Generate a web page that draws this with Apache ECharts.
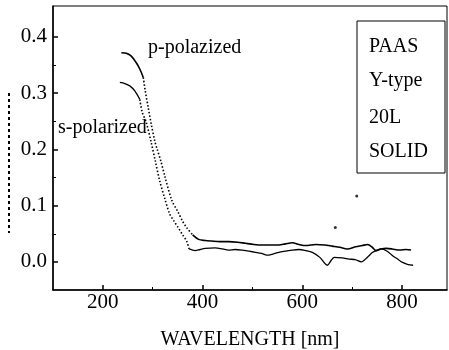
<!DOCTYPE html>
<html>
<head>
<meta charset="utf-8">
<script src="https://cdn.jsdelivr.net/npm/echarts@6/dist/echarts.min.js"></script>
<style>
html,body{margin:0;padding:0;background:#fff;}
#chart{width:449px;height:350px;}
</style>
</head>
<body>
<div id="chart"></div>
<script>
// wavelength [nm] / value pairs
var pWave = [237,247,257,267,274,281,285,291,297,304,309,316,324,338,351,360,368,380,392,405,418,435,452,470,486,503,519,536,553,566,580,593,607,627,645,660,675,690,707,720,731,740,748,758,768,780,795,808,818];
var pVals = [0.372,0.371,0.366,0.354,0.343,0.328,0.304,0.274,0.245,0.215,0.200,0.180,0.153,0.110,0.088,0.072,0.061,0.048,0.040,0.038,0.037,0.036,0.036,0.035,0.033,0.031,0.030,0.030,0.030,0.032,0.034,0.031,0.029,0.031,0.030,0.028,0.026,0.023,0.027,0.029,0.031,0.026,0.020,0.023,0.024,0.023,0.021,0.022,0.021];
var sWave = [234,244,254,264,274,279,287,297,305,314,324,334,343,351,360,368,373,385,395,405,425,440,452,465,479,493,506,518,529,541,553,566,580,593,607,620,635,650,658,664,680,694,706,718,730,741,750,758,770,781,791,801,812,822];
var sVals = [0.319,0.317,0.313,0.304,0.289,0.266,0.248,0.212,0.180,0.144,0.113,0.085,0.072,0.061,0.048,0.037,0.023,0.020,0.022,0.024,0.025,0.023,0.021,0.022,0.021,0.019,0.017,0.015,0.012,0.014,0.017,0.019,0.021,0.022,0.020,0.017,0.008,-0.006,0.003,0.008,0.007,0.005,0.004,0.000,0.008,0.017,0.021,0.023,0.019,0.011,0.005,-0.001,-0.005,-0.006];
var strayWave = [666, 709];
var strayVals = [0.061, 0.117];
// wavelength range where the printed trace is dotted (steep part)
var pDotted = [281, 380];
var sDotted = [274, 373];

var xTickLabels = [200, 400, 600, 800];
var xMinorTicks = [300, 500, 700];
var yTickLabels = [0.0, 0.1, 0.2, 0.3, 0.4];
var yMinorTicks = [0.05, 0.15, 0.25, 0.35];
var boxLines = ['PAAS', 'Y-type', '20L', 'SOLID'];
var seriesNames = ['p-polazized', 's-polarized'];
var xTitle = 'WAVELENGTH [nm]';

function pairs(xs, ys){ return xs.map(function(x,i){ return [x, ys[i]]; }); }
function range(xs, ys, lo, hi){ return pairs(xs, ys).filter(function(d){ return d[0] >= lo && d[0] <= hi; }); }

var FONT = "'Liberation Serif','Times New Roman',serif";
var chart = echarts.init(document.getElementById('chart'), null, {renderer:'canvas'});

var graphics = [
  {type:'rect', shape:{x:357, y:21, width:88, height:152}, style:{fill:'#fff', stroke:'#000', lineWidth:1}, z:10},
  {type:'line', shape:{x1:9, y1:93, x2:9, y2:233}, style:{stroke:'#000', lineWidth:2, lineDash:[3,3]}, z:10},
  {type:'text', x:148, y:48, style:{text:seriesNames[0], font:'20px ' + FONT, fill:'#000', textVerticalAlign:'middle'}, z:10},
  {type:'text', x:58, y:128, style:{text:seriesNames[1], font:'20px ' + FONT, fill:'#000', textVerticalAlign:'middle'}, z:10}
];
var boxY = [47, 81, 118, 152];
boxLines.forEach(function(t, i){
  graphics.push({type:'text', x:369, y:boxY[i], style:{text:t, font:'20px ' + FONT, fill:'#000', textVerticalAlign:'middle'}, z:11});
});

function lineSeries(name, data, dotted, w){
  return {name:name, type:'line', data:data, showSymbol:false, smooth:0.3, xAxisIndex:0, yAxisIndex:0,
    lineStyle:{color:'#000', width:dotted ? 1.6 : w, type: dotted ? [1.5, 2] : 'solid'}, itemStyle:{color:'#000'}};
}

chart.setOption({
  animation:false,
  backgroundColor:'#fff',
  grid:{left:53, right:2, top:6, bottom:60, show:true, borderColor:'#000', borderWidth:1,
        containLabel:false, outerBoundsMode:'none'},
  xAxis:[{
    type:'value', min:100, max:890,
    axisLine:{onZero:false, lineStyle:{color:'#000', width:1.5}},
    axisTick:{inside:true, length:5, customValues:xTickLabels, lineStyle:{color:'#000', width:1.5}},
    axisLabel:{customValues:xTickLabels, color:'#000', fontSize:21, fontFamily:FONT, margin:2},
    splitLine:{show:false},
    name:xTitle, nameLocation:'middle', nameGap:40,
    nameTextStyle:{color:'#000', fontSize:20, fontFamily:FONT}
  },{
    type:'value', min:100, max:890, position:'bottom',
    axisLine:{show:false, onZero:false},
    axisTick:{inside:true, length:3, customValues:xMinorTicks, lineStyle:{color:'#000', width:1}},
    axisLabel:{show:false}, splitLine:{show:false}
  }],
  yAxis:[{
    type:'value', min:-0.05, max:0.455,
    axisLine:{show:true, onZero:false, lineStyle:{color:'#000', width:1.5}},
    axisTick:{show:true, inside:true, length:5, customValues:yTickLabels, lineStyle:{color:'#000', width:1.5}},
    axisLabel:{customValues:yTickLabels, color:'#000', fontSize:21, fontFamily:FONT, margin:6,
      formatter:function(v){ return v.toFixed(1); }},
    splitLine:{show:false}
  },{
    type:'value', min:-0.05, max:0.455, position:'left',
    axisLine:{show:false, onZero:false},
    axisTick:{show:true, inside:true, length:3, customValues:yMinorTicks, lineStyle:{color:'#000', width:1}},
    axisLabel:{show:false}, splitLine:{show:false}
  }],
  series:[
    lineSeries(seriesNames[0], range(pWave,pVals,0,pDotted[0]), false, 1.6),
    lineSeries(seriesNames[0], range(pWave,pVals,pDotted[0],pDotted[1]), true),
    lineSeries(seriesNames[0], range(pWave,pVals,pDotted[1],2000), false, 1.6),
    lineSeries(seriesNames[1], range(sWave,sVals,0,sDotted[0]), false, 1.3),
    lineSeries(seriesNames[1], range(sWave,sVals,sDotted[0],sDotted[1]), true),
    lineSeries(seriesNames[1], range(sWave,sVals,sDotted[1],2000), false, 1.3),
    {name:'stray', type:'scatter', data:pairs(strayWave,strayVals), symbolSize:3, itemStyle:{color:'#000'}}
  ],
  graphic:graphics
});
</script>
</body>
</html>
